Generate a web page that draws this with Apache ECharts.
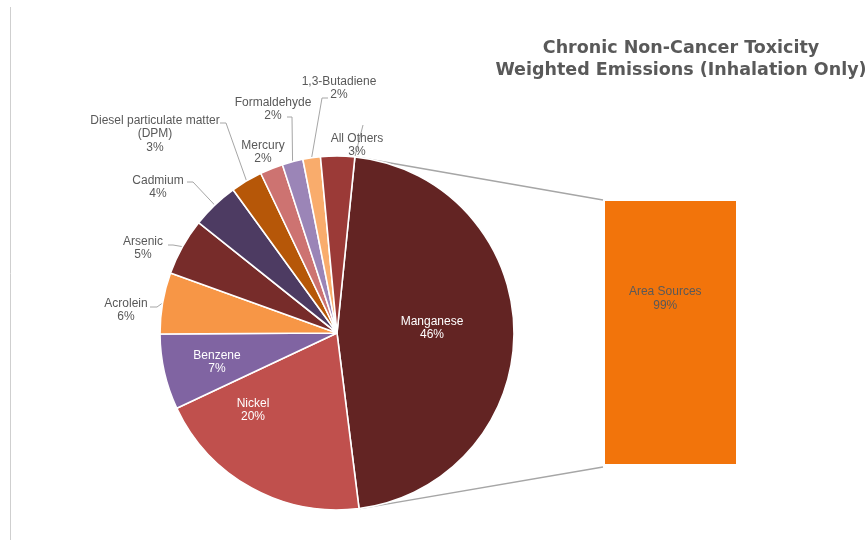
<!DOCTYPE html>
<html>
<head>
<meta charset="utf-8">
<title>Chronic Non-Cancer Toxicity Weighted Emissions (Inhalation Only)</title>
<script src="https://cdn.jsdelivr.net/npm/echarts@6/dist/echarts.min.js"></script>
<style>
  html, body { margin: 0; padding: 0; background: #ffffff; }
  #chart { width: 865px; height: 540px; }
</style>
</head>
<body>
<div id="chart"></div>
<script>
// Pollutant shares of the weighted emissions (percent)
const categories = [
  'Manganese', 'Nickel', 'Benzene', 'Acrolein', 'Arsenic', 'Cadmium',
  'Diesel particulate matter\n(DPM)', 'Mercury', 'Formaldehyde', '1,3-Butadiene', 'All Others'
];
const shares = [46.4, 20.0, 6.9, 5.6, 5.2, 4.3, 2.9, 2.1, 1.9, 1.6, 3.1];
const sliceColors = [
  '#632423', '#C0504D', '#8064A2', '#F79646', '#772C2A', '#4D3B62',
  '#B65708', '#CD7371', '#9B85B7', '#F9AC6C', '#9B3A37'
];

// Breakdown of the Manganese slice by source type
const barCategories = ['Area Sources'];
const barShares = [99];

// Pie geometry
const PIE_CX = 337, PIE_CY = 333, PIE_R = 177, PIE_START = 84.2;

// Label placement: centre of each label, plus leader-line elbow points
const insideLabels = [0, 1, 2];
const labelSpots = {
  0:  { x: 432, y: 328 },
  1:  { x: 253, y: 410 },
  2:  { x: 217, y: 362 },
  3:  { x: 126, y: 310, line: [[157, 307], [150, 307]] },
  4:  { x: 143, y: 248, line: [[173, 245], [168, 245]] },
  5:  { x: 158, y: 187, line: [[193, 182], [187, 182]] },
  6:  { x: 155, y: 134, line: [[226, 123], [220, 123]] },
  7:  { x: 263, y: 152 },
  8:  { x: 273, y: 109, line: [[292, 117], [287, 117]] },
  9:  { x: 339, y: 88,  line: [[322, 98], [328, 98]] },
  10: { x: 357, y: 145, line: [[363, 125]], fromBoundary: true }
};

const FONT = '"Liberation Sans", Arial, Helvetica, sans-serif';
const GREY_TEXT = '#595959';

// point on the rim at a clockwise angle (degrees) measured from 12 o'clock
function rimPoint(deg) {
  const a = deg * Math.PI / 180;
  return [PIE_CX + PIE_R * Math.sin(a), PIE_CY - PIE_R * Math.cos(a)];
}
const totalShare = shares.reduce((s, v) => s + v, 0);
// clockwise angle (from top) at the start of the first slice
const firstSliceStart = 90 - PIE_START;

const pieData = categories.map((name, i) => {
  const item = {
    name: name,
    value: shares[i],
    itemStyle: { color: sliceColors[i] }
  };
  if (insideLabels.indexOf(i) >= 0) {
    item.label = { position: 'inside', color: '#ffffff' };
  }
  if (!labelSpots[i].line) {
    item.labelLine = { show: false };
  }
  return item;
});

const chart = echarts.init(document.getElementById('chart'), null, { renderer: 'canvas' });

chart.setOption({
  backgroundColor: '#ffffff',
  animation: false,
  title: {
    text: 'Chronic Non-Cancer Toxicity\nWeighted Emissions (Inhalation Only)',
    left: 681,
    top: 37,
    padding: 0,
    textAlign: 'center',
    textStyle: {
      fontFamily: '"DejaVu Sans", sans-serif',
      fontWeight: 'bold',
      fontSize: 17.5,
      lineHeight: 22,
      color: GREY_TEXT
    }
  },
  grid: { left: 605, top: 201, width: 131, height: 263 },
  xAxis: { type: 'category', data: barCategories, show: false },
  yAxis: {
    type: 'value',
    min: 0,
    max: barShares.reduce((s, v) => s + v, 0),
    show: false
  },
  series: [
    {
      type: 'pie',
      center: [PIE_CX, PIE_CY],
      radius: PIE_R,
      startAngle: PIE_START,
      clockwise: true,
      avoidLabelOverlap: false,
      data: pieData,
      itemStyle: { borderColor: '#ffffff', borderWidth: 1.6 },
      label: {
        show: true,
        position: 'outside',
        fontFamily: FONT,
        fontSize: 12,
        lineHeight: 13.5,
        color: GREY_TEXT,
        align: 'center',
        formatter: p => p.name + '\n' + Math.round(p.percent) + '%'
      },
      labelLine: {
        show: true,
        smooth: false,
        lineStyle: { color: '#A6A6A6', width: 1 }
      },
      emphasis: { disabled: true },
      labelLayout: function (params) {
        const spot = labelSpots[params.dataIndex];
        const out = { x: spot.x, y: spot.y, align: 'center', verticalAlign: 'middle' };
        if (spot.line) {
          let start;
          if (spot.fromBoundary) {
            start = rimPoint(firstSliceStart);
          } else if (params.labelLinePoints) {
            start = params.labelLinePoints[0];
          } else {
            // mid angle of this slice on the rim
            let before = 0;
            for (let k = 0; k < params.dataIndex; k++) before += shares[k];
            const mid = firstSliceStart + (before + shares[params.dataIndex] / 2) / totalShare * 360;
            start = rimPoint(mid);
          }
          out.labelLinePoints = [start].concat(spot.line);
        }
        return out;
      }
    },
    {
      type: 'bar',
      data: barShares,
      barWidth: '100%',
      itemStyle: { color: '#F2740B' },
      label: {
        show: true,
        position: ['46%', '37%'],
        align: 'center',
        verticalAlign: 'middle',
        fontFamily: FONT,
        fontSize: 12,
        lineHeight: 14,
        color: GREY_TEXT,
        formatter: p => p.name + '\n' + p.value + '%'
      },
      emphasis: { disabled: true }
    }
  ]
});

// Connector lines from the Manganese slice edges to the breakdown bar
function drawConnectors() {
  const model = chart.getModel();
  const pieLayout = model.getSeriesByIndex(0).getData().getItemLayout(0);
  const barLayout = model.getSeriesByIndex(1).getData().getItemLayout(0);
  const p1 = [pieLayout.cx + pieLayout.r * Math.cos(pieLayout.startAngle),
              pieLayout.cy + pieLayout.r * Math.sin(pieLayout.startAngle)];
  const p2 = [pieLayout.cx + pieLayout.r * Math.cos(pieLayout.endAngle),
              pieLayout.cy + pieLayout.r * Math.sin(pieLayout.endAngle)];
  const pieTop = p1[1] < p2[1] ? p1 : p2;
  const pieBottom = p1[1] < p2[1] ? p2 : p1;
  const barTop = Math.min(barLayout.y, barLayout.y + barLayout.height);
  const barBottom = Math.max(barLayout.y, barLayout.y + barLayout.height);
  const barLeft = Math.min(barLayout.x, barLayout.x + barLayout.width);
  const connectorStyle = { stroke: '#A6A6A6', lineWidth: 1.5 };
  chart.setOption({
    graphic: [
      {
        type: 'line', silent: true, z: 0,
        shape: { x1: 10.5, y1: 7, x2: 10.5, y2: 540 },
        style: { stroke: '#CFCFCF', lineWidth: 1 }
      },
      {
        type: 'line', silent: true, z: 1,
        shape: { x1: pieTop[0] + 1, y1: pieTop[1], x2: barLeft - 2, y2: barTop - 1 },
        style: connectorStyle
      },
      {
        type: 'line', silent: true, z: 1,
        shape: { x1: pieBottom[0] + 1, y1: pieBottom[1], x2: barLeft - 2, y2: barBottom + 3 },
        style: connectorStyle
      }
    ]
  });
}
drawConnectors();
</script>
</body>
</html>
